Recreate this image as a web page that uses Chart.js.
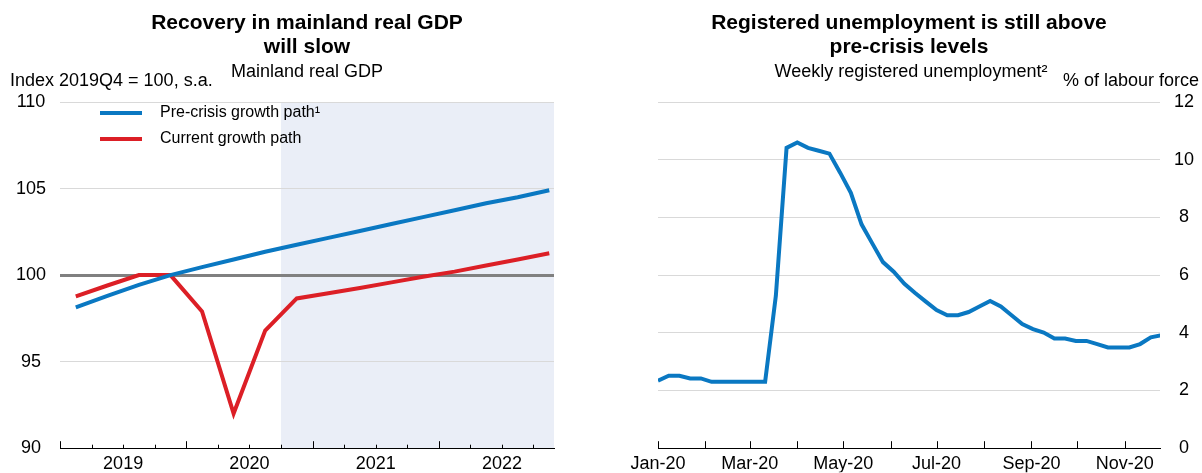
<!DOCTYPE html>
<html>
<head>
<meta charset="utf-8">
<script src="https://cdn.jsdelivr.net/npm/chart.js@4.4.1/dist/chart.umd.min.js"></script>
<style>
  body { margin: 0; background: #fff; width: 1202px; height: 473px; overflow: hidden; position: relative; }
  .panel { position: absolute; top: 0; width: 601px; height: 473px; }
</style>
</head>
<body>
<div class="panel" style="left:0"><canvas id="grafica-pib"></canvas></div>
<div class="panel" style="left:601px"><canvas id="grafica-paro"></canvas></div>
<script>
// Left panel: mainland real GDP, quarterly, index 2019Q4 = 100
const quarters = ['2019Q1','2019Q2','2019Q3','2019Q4','2020Q1','2020Q2','2020Q3','2020Q4',
                  '2021Q1','2021Q2','2021Q3','2021Q4','2022Q1','2022Q2','2022Q3','2022Q4'];
const preCrisis = [98.14, 98.8, 99.44, 100.0, 100.46, 100.9, 101.35, 101.75,
                   102.15, 102.55, 102.95, 103.35, 103.75, 104.15, 104.5, 104.9];
const current = [98.77, 99.4, 100.0, 100.0, 97.9, 92.0, 96.8, 98.65,
                 98.95, 99.25, 99.58, 99.9, 100.2, 100.55, 100.9, 101.26];
const years = ['2019', '2020', '2021', '2022'];
const gdpTicks = [90, 95, 100, 105, 110];

// Right panel: weekly registered unemployment, days counted from 1 Jan 2020
const weekDays = [0, 7, 14, 21, 28, 35, 42, 49, 56, 63, 70, 77, 84, 91, 98, 105,
                  112, 119, 126, 133, 140, 147, 154, 161, 168, 175, 182, 189, 196, 203, 210, 217,
                  224, 231, 238, 245, 252, 259, 266, 273, 280, 287, 294, 301, 308, 315, 322, 329];
const unemployment = [2.34, 2.51, 2.51, 2.42, 2.42, 2.30, 2.30, 2.30, 2.30, 2.30, 2.30, 5.28, 10.41, 10.6, 10.41, 10.31,
                      10.21, 9.55, 8.85, 7.76, 7.1, 6.45, 6.12, 5.70, 5.38, 5.08, 4.79, 4.61, 4.61, 4.72, 4.91, 5.10,
                      4.91, 4.61, 4.30, 4.13, 4.01, 3.80, 3.80, 3.72, 3.72, 3.61, 3.49, 3.49, 3.49, 3.61, 3.84, 3.92];
const monthStarts = [0, 31, 60, 91, 121, 152, 182, 213, 244, 274, 305];
const monthLabels = ['Jan-20', '', 'Mar-20', '', 'May-20', '', 'Jul-20', '', 'Sep-20', '', 'Nov-20'];
const unempTicks = [0, 2, 4, 6, 8, 10, 12];

const FUENTE = '"Liberation Sans", Arial, sans-serif';
const AZUL = '#0a78c2';
const ROJO = '#dc1f26';
const REJILLA = '#d9d9d9';

Chart.defaults.font.family = FUENTE;
Chart.defaults.color = '#000';

function texto(ctx, s, x, y, size, align, bold) {
  ctx.save();
  ctx.font = (bold ? 'bold ' : '') + size + 'px ' + FUENTE;
  ctx.fillStyle = '#000';
  ctx.textAlign = align;
  ctx.textBaseline = 'middle';
  ctx.fillText(s, x, y);
  ctx.restore();
}

// Tick marks pointing up from the x axis
function marcas(chart, values, largo) {
  const { ctx, chartArea } = chart;
  const xs = chart.scales.x;
  ctx.save();
  ctx.strokeStyle = '#000';
  ctx.lineWidth = 1;
  values.forEach((v, i) => {
    const x = Math.round(xs.getPixelForValue(v)) + 0.5;
    ctx.beginPath();
    ctx.moveTo(x, chartArea.bottom);
    ctx.lineTo(x, chartArea.bottom - largo(v, i));
    ctx.stroke();
  });
  ctx.restore();
}

const quarterEdges = quarters.map((q, i) => i);

new Chart(document.getElementById('grafica-pib').getContext('2d'), {
  type: 'line',
  data: {
    datasets: [
      { label: 'Pre-crisis growth path¹', data: quarters.map((q, i) => ({ x: i + 0.5, y: preCrisis[i] })),
        borderColor: AZUL, borderWidth: 4, pointRadius: 0, tension: 0 },
      { label: 'Current growth path', data: quarters.map((q, i) => ({ x: i + 0.5, y: current[i] })),
        borderColor: ROJO, borderWidth: 4, pointRadius: 0, tension: 0 }
    ]
  },
  options: {
    responsive: true,
    maintainAspectRatio: false,
    animation: false,
    layout: { padding: { top: 102, right: 47, left: 0, bottom: 0 } },
    plugins: { legend: { display: false }, tooltip: { enabled: false } },
    scales: {
      x: {
        type: 'linear', min: 0, max: 15.65,
        afterBuildTicks: s => { s.ticks = quarterEdges.map(v => ({ value: v })); },
        grid: { display: false, drawTicks: false },
        border: { display: true, color: '#000', width: 1 },
        ticks: {
          autoSkip: false, maxRotation: 0, padding: 5, font: { size: 18 },
          callback: v => (v % 4 === 2 ? years[(v - 2) / 4] : '')
        },
        afterFit: s => { s.height = 24; }
      },
      y: {
        min: 90, max: 110,
        afterBuildTicks: s => { s.ticks = gdpTicks.map(v => ({ value: v })); },
        grid: {
          drawTicks: false,
          color: c => c.tick.value === 100 ? '#808080' : (c.tick.value === 90 ? 'rgba(0,0,0,0)' : REJILLA),
          lineWidth: c => c.tick.value === 100 ? 3 : 1
        },
        border: { display: false },
        ticks: { font: { size: 18 }, padding: 14, crossAlign: 'center' },
        afterFit: s => { s.width = 60; }
      }
    }
  },
  plugins: [{
    id: 'sombreado',
    beforeDraw(chart) {
      const { ctx, chartArea } = chart;
      const x0 = chart.scales.x.getPixelForValue(7);
      ctx.save();
      ctx.fillStyle = '#eaeef7';
      ctx.fillRect(x0, chartArea.top, chartArea.right - x0, chartArea.bottom - chartArea.top);
      ctx.restore();
    },
    afterDraw(chart) {
      const { ctx, chartArea } = chart;
      marcas(chart, quarterEdges, v => (v % 4 === 0 ? 7 : 3.5));
      const cx = (chartArea.left + chartArea.right) / 2;
      texto(ctx, 'Recovery in mainland real GDP', cx, 23, 21, 'center', true);
      texto(ctx, 'will slow', cx, 47, 21, 'center', true);
      texto(ctx, 'Mainland real GDP', cx, 72, 18, 'center');
      texto(ctx, 'Index 2019Q4 = 100, s.a.', 10, 81, 18, 'left');
      // legend
      chart.data.datasets.forEach((d, i) => {
        const y = 113 + i * 26;
        ctx.save();
        ctx.strokeStyle = d.borderColor;
        ctx.lineWidth = 4;
        ctx.beginPath();
        ctx.moveTo(100, y);
        ctx.lineTo(142, y);
        ctx.stroke();
        ctx.restore();
        texto(ctx, d.label, 160, y, 16, 'left');
      });
    }
  }]
});

new Chart(document.getElementById('grafica-paro').getContext('2d'), {
  type: 'line',
  data: {
    datasets: [{
      label: 'Weekly registered unemployment',
      data: weekDays.map((d, i) => ({ x: d, y: unemployment[i] })),
      borderColor: AZUL, borderWidth: 4, pointRadius: 0, tension: 0
    }]
  },
  options: {
    responsive: true,
    maintainAspectRatio: false,
    animation: false,
    layout: { padding: { top: 102, right: 0, left: 57, bottom: 0 } },
    plugins: { legend: { display: false }, tooltip: { enabled: false } },
    scales: {
      x: {
        type: 'linear', min: 0, max: 328,
        afterBuildTicks: s => { s.ticks = monthStarts.map(v => ({ value: v })); },
        grid: { display: false, drawTicks: false },
        border: { display: true, color: '#000', width: 1 },
        ticks: {
          autoSkip: false, maxRotation: 0, padding: 5, font: { size: 18 },
          callback: (v, i) => monthLabels[i]
        },
        afterFit: s => { s.height = 24; }
      },
      y: {
        position: 'right',
        min: 0, max: 12,
        afterBuildTicks: s => { s.ticks = unempTicks.map(v => ({ value: v })); },
        grid: {
          drawTicks: false,
          color: c => c.tick.value === 0 ? 'rgba(0,0,0,0)' : REJILLA
        },
        border: { display: false },
        ticks: { font: { size: 18 }, padding: 14, crossAlign: 'center' },
        afterFit: s => { s.width = 42; }
      }
    }
  },
  plugins: [{
    id: 'textos',
    afterDraw(chart) {
      const { ctx, chartArea } = chart;
      marcas(chart, monthStarts, () => 7);
      const cx = (chartArea.left + chartArea.right) / 2;
      texto(ctx, 'Registered unemployment is still above', cx, 23, 21, 'center', true);
      texto(ctx, 'pre-crisis levels', cx, 47, 21, 'center', true);
      texto(ctx, 'Weekly registered unemployment²', cx + 2, 72, 18, 'center');
      texto(ctx, '% of labour force', 598, 81, 18, 'right');
    }
  }]
});
</script>
</body>
</html>
